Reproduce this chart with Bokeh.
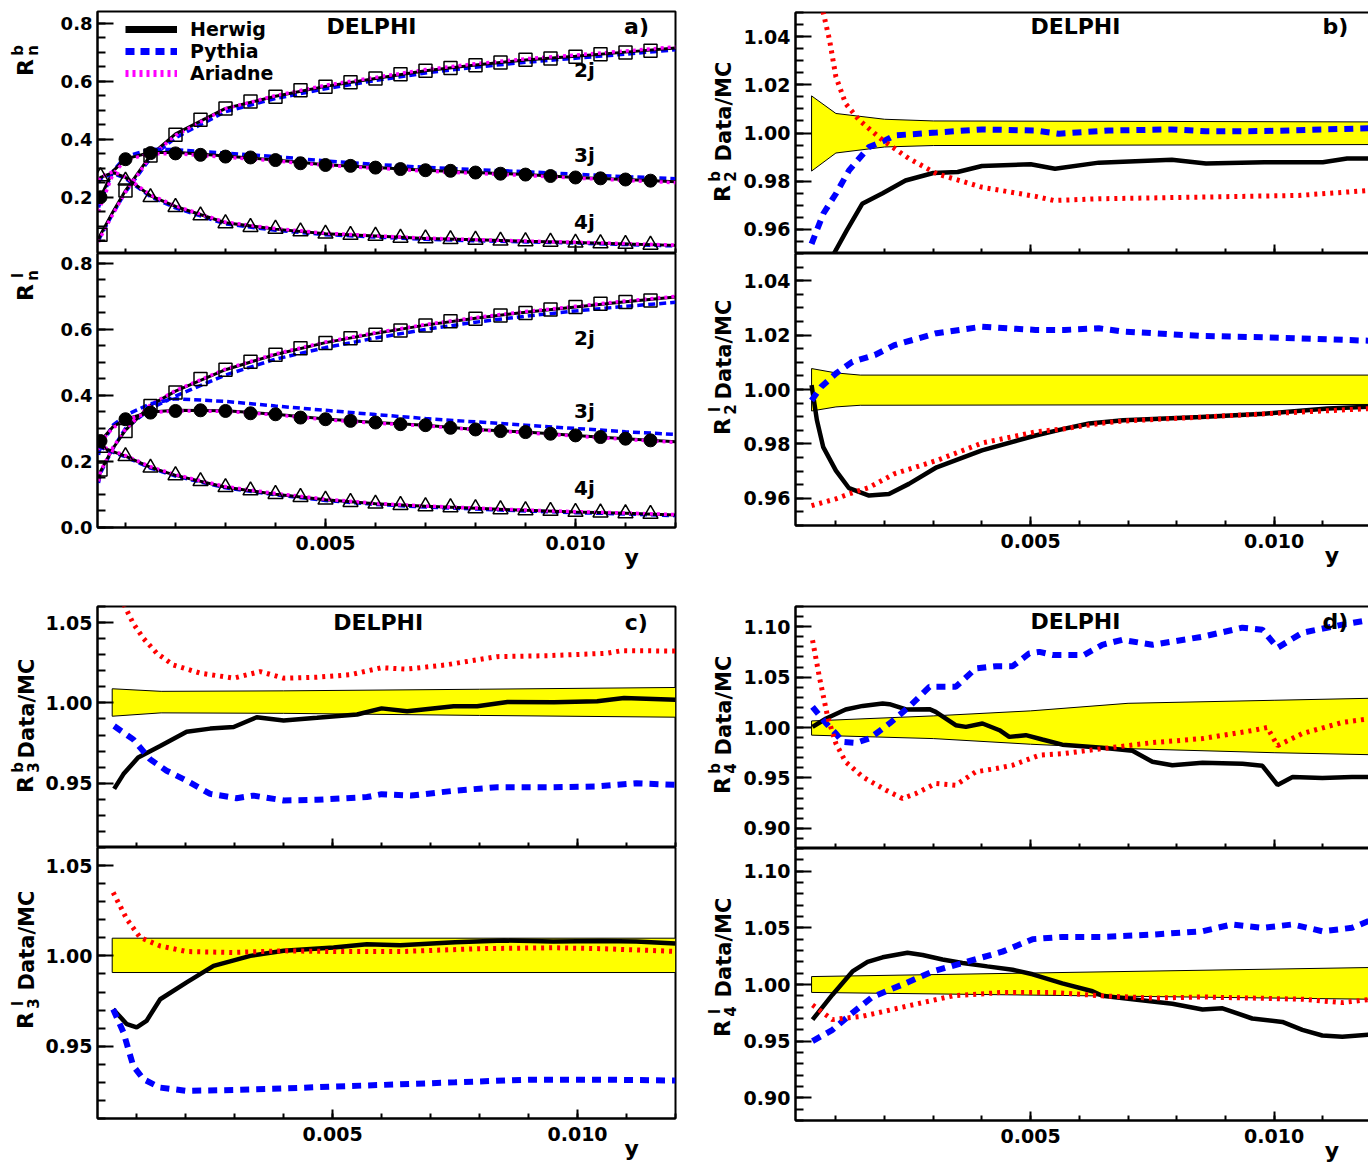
import numpy as np
from bokeh.plotting import figure
from bokeh.layouts import row, column
from bokeh.models import (FixedTicker, PrintfTickFormatter, Label, Legend, LegendItem, Range1d,
                          LinearAxis)
from bokeh.embed import file_html
from bokeh.resources import INLINE

FONT = "DejaVu Sans"

# ------------------------------------------------------------------ data: panel a
y_bins = [0.0005, 0.0010, 0.0015, 0.0020, 0.0025, 0.0030, 0.0035, 0.0040, 0.0045, 0.0050, 0.0055, 0.0060,
          0.0065, 0.0070, 0.0075, 0.0080, 0.0085, 0.0090, 0.0095, 0.0100, 0.0105, 0.0110, 0.0115]
rb_2j = [0.071, 0.223, 0.344, 0.415, 0.467, 0.506, 0.530, 0.546, 0.569, 0.581, 0.596, 0.609,
         0.624, 0.636, 0.645, 0.655, 0.664, 0.674, 0.678, 0.684, 0.693, 0.699, 0.705]
rb_3j = [0.200, 0.331, 0.352, 0.351, 0.346, 0.340, 0.337, 0.328, 0.317, 0.311, 0.308, 0.302,
         0.297, 0.293, 0.291, 0.285, 0.281, 0.278, 0.273, 0.268, 0.265, 0.261, 0.257]
rb_4j = [0.272, 0.257, 0.200, 0.166, 0.137, 0.110, 0.097, 0.091, 0.082, 0.074, 0.070, 0.067,
         0.060, 0.058, 0.055, 0.053, 0.050, 0.048, 0.046, 0.043, 0.041, 0.039, 0.036]
rl_2j = [0.176, 0.292, 0.368, 0.409, 0.450, 0.478, 0.502, 0.523, 0.543, 0.559, 0.573, 0.584,
         0.597, 0.612, 0.625, 0.632, 0.642, 0.650, 0.660, 0.668, 0.678, 0.683, 0.688]
rl_3j = [0.262, 0.328, 0.348, 0.353, 0.355, 0.353, 0.346, 0.343, 0.333, 0.328, 0.323, 0.318,
         0.313, 0.310, 0.302, 0.297, 0.292, 0.289, 0.284, 0.279, 0.274, 0.269, 0.264]
rl_4j = [0.241, 0.216, 0.181, 0.158, 0.140, 0.122, 0.112, 0.101, 0.092, 0.084, 0.077, 0.072,
         0.068, 0.064, 0.061, 0.058, 0.055, 0.052, 0.050, 0.047, 0.045, 0.043, 0.041]

mc_x = [0.00046, 0.0005, 0.00075, 0.001, 0.0015, 0.002, 0.003, 0.004, 0.005, 0.006, 0.007, 0.008,
        0.009, 0.010, 0.011, 0.012]
hw_b2 = [0.055, 0.071, 0.150, 0.223, 0.344, 0.418, 0.506, 0.548, 0.582, 0.609, 0.636, 0.656, 0.673, 0.686, 0.700, 0.714]
py_b2 = [0.050, 0.066, 0.145, 0.218, 0.335, 0.405, 0.495, 0.540, 0.574, 0.602, 0.628, 0.648, 0.665, 0.679, 0.693, 0.708]
ar_b2 = [0.045, 0.062, 0.142, 0.218, 0.340, 0.413, 0.505, 0.550, 0.586, 0.613, 0.640, 0.660, 0.677, 0.690, 0.704, 0.718]
hw_b3 = [0.185, 0.200, 0.290, 0.332, 0.354, 0.355, 0.342, 0.328, 0.312, 0.302, 0.293, 0.285, 0.278, 0.268, 0.261, 0.253]
py_b3 = [0.165, 0.185, 0.290, 0.340, 0.365, 0.364, 0.352, 0.340, 0.325, 0.313, 0.303, 0.295, 0.288, 0.279, 0.271, 0.264]
ar_b3 = [0.150, 0.170, 0.280, 0.328, 0.350, 0.350, 0.338, 0.325, 0.310, 0.300, 0.290, 0.282, 0.275, 0.266, 0.258, 0.250]
hw_b4 = [0.255, 0.268, 0.285, 0.268, 0.205, 0.168, 0.112, 0.090, 0.074, 0.066, 0.058, 0.053, 0.048, 0.044, 0.039, 0.034]
py_b4 = [0.250, 0.264, 0.282, 0.265, 0.202, 0.163, 0.108, 0.086, 0.071, 0.063, 0.055, 0.050, 0.046, 0.042, 0.037, 0.032]
ar_b4 = [0.258, 0.270, 0.288, 0.270, 0.208, 0.170, 0.114, 0.092, 0.076, 0.067, 0.059, 0.054, 0.049, 0.045, 0.040, 0.035]
hw_l2 = [0.140, 0.170, 0.240, 0.295, 0.370, 0.413, 0.478, 0.524, 0.560, 0.588, 0.613, 0.634, 0.652, 0.668, 0.684, 0.698]
py_l2 = [0.135, 0.165, 0.240, 0.300, 0.360, 0.398, 0.462, 0.510, 0.545, 0.574, 0.600, 0.622, 0.640, 0.656, 0.670, 0.682]
ar_l2 = [0.140, 0.170, 0.243, 0.298, 0.372, 0.415, 0.480, 0.526, 0.562, 0.590, 0.615, 0.636, 0.654, 0.670, 0.686, 0.700]
hw_l3 = [0.240, 0.262, 0.305, 0.328, 0.350, 0.355, 0.354, 0.343, 0.329, 0.318, 0.310, 0.297, 0.289, 0.279, 0.269, 0.260]
py_l3 = [0.220, 0.245, 0.310, 0.340, 0.375, 0.390, 0.382, 0.368, 0.355, 0.342, 0.330, 0.320, 0.310, 0.300, 0.290, 0.282]
ar_l3 = [0.235, 0.258, 0.302, 0.326, 0.348, 0.353, 0.352, 0.341, 0.327, 0.316, 0.308, 0.296, 0.287, 0.277, 0.267, 0.258]
hw_l4 = [0.250, 0.245, 0.230, 0.216, 0.182, 0.158, 0.122, 0.101, 0.084, 0.072, 0.064, 0.058, 0.052, 0.047, 0.043, 0.038]
py_l4 = [0.248, 0.243, 0.228, 0.214, 0.180, 0.156, 0.120, 0.099, 0.082, 0.070, 0.062, 0.056, 0.050, 0.045, 0.041, 0.036]
ar_l4 = [0.252, 0.247, 0.232, 0.218, 0.184, 0.160, 0.124, 0.103, 0.086, 0.073, 0.065, 0.059, 0.053, 0.048, 0.044, 0.039]

# ------------------------------------------------------------------ data: panel b (R2)
b2b_band_x = [0.0005, 0.001, 0.002, 0.003, 0.012]
b2b_band_hi = [1.0154, 1.0081, 1.0057, 1.0050, 1.0046]
b2b_band_lo = [0.9842, 0.9917, 0.9942, 0.9948, 0.9952]
b2b_hw_x = [0.0007, 0.00096, 0.00122, 0.00154, 0.00196, 0.00243, 0.0030, 0.0035, 0.0040, 0.0050, 0.0055,
            0.0064, 0.0079, 0.0086, 0.0098, 0.0110, 0.0115, 0.0120]
b2b_hw = [0.935, 0.950, 0.9595, 0.9706, 0.975, 0.9803, 0.9834, 0.9838, 0.9863, 0.9870, 0.9852,
          0.9877, 0.9889, 0.9873, 0.9879, 0.9879, 0.9894, 0.9894]
b2b_py_x = [0.0005, 0.00074, 0.001, 0.00127, 0.00168, 0.00202, 0.0022, 0.00307, 0.004, 0.0051, 0.00558,
            0.0066, 0.0079, 0.0086, 0.0098, 0.0111, 0.012]
b2b_py = [0.954, 0.9665, 0.9748, 0.9845, 0.9942, 0.997, 0.999, 1.0002, 1.0015, 1.001, 0.9997,
          1.001, 1.0015, 1.0007, 1.0008, 1.0015, 1.002]
b2b_ar_x = [0.0005, 0.00074, 0.00087, 0.001, 0.0012, 0.00148, 0.00196, 0.0025, 0.00307, 0.004, 0.0051,
            0.00548, 0.0064, 0.0085, 0.0105, 0.012]
b2b_ar = [1.09, 1.05, 1.0385, 1.0233, 1.0122, 1.0053, 0.997, 0.9894, 0.9831, 0.9775, 0.9737,
          0.972, 0.9727, 0.9734, 0.9741, 0.9762]

b2l_band_x = [0.0005, 0.001, 0.0015, 0.012]
b2l_band_hi = [1.0077, 1.0061, 1.0053, 1.0053]
b2l_band_lo = [0.9921, 0.9936, 0.9942, 0.9945]
b2l_hw_x = [0.0005, 0.00061, 0.00074, 0.001, 0.00127, 0.00168, 0.00209, 0.0025, 0.00307, 0.004, 0.0051,
            0.0057, 0.0062, 0.0069, 0.0085, 0.0098, 0.0111, 0.012]
b2l_hw = [1.0016, 0.9887, 0.9788, 0.9702, 0.9637, 0.961, 0.9616, 0.9653, 0.9714, 0.9776, 0.9831,
          0.9856, 0.9875, 0.9887, 0.9899, 0.9911, 0.993, 0.9937]
b2l_py_x = [0.0005, 0.0007, 0.001, 0.00134, 0.0018, 0.0022, 0.00307, 0.004, 0.0051, 0.0057, 0.0064,
            0.0069, 0.0085, 0.0098, 0.012]
b2l_py = [0.996, 1.001, 1.0059, 1.0102, 1.0127, 1.0163, 1.0207, 1.0231, 1.0219, 1.0219, 1.0225,
          1.0213, 1.0197, 1.0192, 1.0179]
b2l_ar_x = [0.0005, 0.001, 0.00127, 0.00168, 0.0022, 0.00307, 0.004, 0.0051, 0.0057, 0.0064, 0.0069,
            0.0092, 0.012]
b2l_ar = [0.9573, 0.9598, 0.9616, 0.964, 0.969, 0.9739, 0.9803, 0.9844, 0.9856, 0.9875, 0.9884,
          0.9905, 0.993]

# ------------------------------------------------------------------ data: panel c (R3)
c3b_band_x = [0.0005, 0.0015, 0.004, 0.008, 0.012]
c3b_band_hi = [1.0088, 1.0072, 1.0075, 1.0085, 1.0096]
c3b_band_lo = [0.9917, 0.9938, 0.9935, 0.9922, 0.9911]
c3b_hw_x = [0.00054, 0.00073, 0.00103, 0.00148, 0.00202, 0.0025, 0.00298, 0.00345, 0.004, 0.00468,
            0.0055, 0.006, 0.00652, 0.00747, 0.00795, 0.00857, 0.00952, 0.0104, 0.01095, 0.012]
c3b_hw = [0.9465, 0.9557, 0.966, 0.9732, 0.9821, 0.984, 0.985, 0.9911, 0.989, 0.9907,
          0.9928, 0.9966, 0.9948, 0.9979, 0.9979, 1.0006, 1.0004, 1.001, 1.003, 1.002]
c3b_py_x = [0.00054, 0.00093, 0.00127, 0.00161, 0.00202, 0.0025, 0.00304, 0.00338, 0.004, 0.00468,
            0.0057, 0.006, 0.0066, 0.0075, 0.00836, 0.0094, 0.0104, 0.0112, 0.012]
c3b_py = [0.9856, 0.9773, 0.965, 0.9578, 0.9516, 0.9434, 0.9407, 0.9423, 0.9393, 0.9397,
          0.9414, 0.9432, 0.9423, 0.9454, 0.9475, 0.9475, 0.948, 0.950, 0.949]
c3b_ar_x = [0.0005, 0.00076, 0.00093, 0.00114, 0.00141, 0.00175, 0.0023, 0.00298, 0.00352, 0.004,
            0.00468, 0.00536, 0.006, 0.0065, 0.0073, 0.00836, 0.0094, 0.0106, 0.0109, 0.012]
c3b_ar = [1.08, 1.06, 1.0494, 1.0401, 1.0309, 1.0236, 1.0185, 1.0154, 1.0195, 1.0154,
          1.016, 1.0175, 1.0219, 1.021, 1.0236, 1.0288, 1.0294, 1.0309, 1.0325, 1.0323]

c3l_band_x = [0.0005, 0.012]
c3l_band_hi = [1.0098, 1.0098]
c3l_band_lo = [0.9908, 0.9908]
c3l_hw_x = [0.00052, 0.0008, 0.001, 0.0012, 0.00148, 0.00202, 0.00257, 0.00332, 0.004, 0.00502,
            0.0057, 0.00638, 0.0075, 0.0085, 0.0095, 0.0105, 0.0112, 0.012]
c3l_hw = [0.9705, 0.9622, 0.9604, 0.964, 0.976, 0.9853, 0.9945, 1.0, 1.0028, 1.0046,
          1.0065, 1.0059, 1.0075, 1.0085, 1.008, 1.0083, 1.008, 1.0068]
c3l_py_x = [0.00052, 0.00073, 0.00093, 0.00114, 0.00148, 0.00202, 0.00298, 0.004, 0.00502, 0.00604,
            0.0075, 0.009, 0.0105, 0.012]
c3l_py = [0.9705, 0.9576, 0.9391, 0.9317, 0.9271, 0.9253, 0.9258, 0.9266, 0.9277, 0.9286,
          0.930, 0.9315, 0.9315, 0.9310]
c3l_ar_x = [0.00052, 0.0008, 0.00107, 0.00148, 0.00202, 0.00298, 0.004, 0.00502, 0.00638, 0.008,
            0.0095, 0.0105, 0.012]
c3l_ar = [1.0351, 1.0203, 1.0102, 1.0055, 1.0024, 1.0019, 1.0028, 1.0024, 1.0024, 1.004,
          1.0045, 1.004, 1.0025]

# ------------------------------------------------------------------ data: panel d (R4)
d4b_band_x = [0.0005, 0.003, 0.005, 0.007, 0.010, 0.012]
d4b_band_hi = [1.0065, 1.0115, 1.0165, 1.024, 1.027, 1.029]
d4b_band_lo = [0.9924, 0.989, 0.9834, 0.979, 0.975, 0.973]
d4b_hw_x = [0.00052, 0.0008, 0.0012, 0.00155, 0.00196, 0.0021, 0.00244, 0.00292, 0.00305, 0.00346,
            0.00367, 0.00401, 0.00436, 0.00456, 0.0049, 0.00524, 0.00565, 0.00647, 0.00709, 0.0075,
            0.00791, 0.00853, 0.00935, 0.00976, 0.01007, 0.01038, 0.01099, 0.0116, 0.012]
d4b_hw = [1.0006, 1.0089, 1.0179, 1.0214, 1.0238, 1.0231, 1.0179, 1.0182, 1.0155, 1.0023,
          1.0006, 1.004, 0.9973, 0.9907, 0.9924, 0.9881, 0.983, 0.980, 0.977, 0.966,
          0.9625, 0.965, 0.964, 0.962, 0.943, 0.951, 0.950, 0.951, 0.951]
d4b_py_x = [0.00052, 0.0008, 0.001, 0.00114, 0.00141, 0.00169, 0.0021, 0.0025, 0.00292, 0.00346,
            0.00387, 0.00429, 0.00463, 0.00497, 0.00518, 0.00545, 0.0061, 0.00647, 0.00688, 0.0075,
            0.00853, 0.00935, 0.00976, 0.01007, 0.01058, 0.0114, 0.012]
d4b_py = [1.0204, 1.004, 0.994, 0.9857, 0.9847, 0.9891, 1.004, 1.0204, 1.0403, 1.0403,
          1.0585, 1.0608, 1.0608, 1.0734, 1.075, 1.072, 1.072, 1.082, 1.087, 1.082,
          1.090, 1.099, 1.097, 1.079, 1.094, 1.102, 1.107]
d4b_ar_x = [0.00052, 0.00066, 0.00083, 0.001, 0.0012, 0.00155, 0.00203, 0.00237, 0.00264, 0.00305,
            0.00346, 0.00387, 0.00429, 0.00463, 0.00518, 0.00565, 0.00647, 0.0075, 0.00853, 0.00955,
            0.00986, 0.01007, 0.01058, 0.0114, 0.012]
d4b_ar = [1.0866, 1.0502, 1.0105, 0.9841, 0.9659, 0.951, 0.9378, 0.9296, 0.9345, 0.9444,
          0.9428, 0.956, 0.9593, 0.9626, 0.9725, 0.974, 0.979, 0.985, 0.989, 0.997,
          1.0, 0.982, 0.994, 1.005, 1.009]

d4l_band_x = [0.0005, 0.012]
d4l_band_hi = [1.007, 1.015]
d4l_band_lo = [0.993, 0.987]
d4l_hw_x = [0.00052, 0.00093, 0.00134, 0.00165, 0.00196, 0.00247, 0.00278, 0.00319, 0.0036, 0.00411,
            0.00463, 0.00504, 0.00565, 0.00627, 0.00647, 0.00709, 0.00791, 0.00853, 0.00894, 0.00955,
            0.01017, 0.01058, 0.01099, 0.0114, 0.012]
d4l_hw = [0.969, 0.991, 1.0115, 1.020, 1.024, 1.028, 1.026, 1.022, 1.019, 1.016,
          1.013, 1.009, 1.001, 0.994, 0.990, 0.987, 0.983, 0.978, 0.979, 0.970,
          0.967, 0.960, 0.955, 0.954, 0.956]
d4l_py_x = [0.00052, 0.00093, 0.00134, 0.00175, 0.00237, 0.00299, 0.0036, 0.00442, 0.00504, 0.00565,
            0.00647, 0.0075, 0.00853, 0.00914, 0.00976, 0.01038, 0.01099, 0.0116, 0.012]
d4l_py = [0.950, 0.960, 0.975, 0.989, 1.0, 1.0115, 1.019, 1.029, 1.040, 1.042,
          1.042, 1.044, 1.047, 1.053, 1.050, 1.053, 1.047, 1.050, 1.057]
d4l_ar_x = [0.00052, 0.00093, 0.00155, 0.00237, 0.0034, 0.00442, 0.00545, 0.00647, 0.0075, 0.00853,
            0.00955, 0.01058, 0.0114, 0.012]
d4l_ar = [0.982, 0.969, 0.972, 0.980, 0.990, 0.993, 0.993, 0.990, 0.988, 0.989,
          0.988, 0.987, 0.984, 0.987]

# ------------------------------------------------------------------ helpers
X_MAJOR = [0.005, 0.010]
X_MINOR = [0.001 * i for i in range(1, 13)]
NBSP = "\u00a0"


def style_axis(ax):
    ax.axis_line_width = 2
    ax.axis_line_color = "black"
    ax.major_tick_line_width = 2
    ax.minor_tick_line_width = 2
    ax.major_tick_out = 0
    ax.minor_tick_out = 0
    ax.major_label_text_font = FONT
    ax.major_label_text_font_style = "bold"
    ax.major_label_text_color = "black"


def make_fig(xr, yr, fw, fh, bl, br, bt, bb, ymaj, ymin, yfmt, ysize, xlabels, pad=0):
    p = figure(frame_width=fw, frame_height=fh, x_range=Range1d(*xr), y_range=Range1d(*yr),
               output_backend="svg", toolbar_location=None,
               x_axis_location=None if not xlabels else "below",
               min_border_left=bl, min_border_right=br, min_border_top=bt, min_border_bottom=bb)
    p.grid.visible = False
    p.outline_line_color = "black"
    p.outline_line_width = 2
    p.outline_line_alpha = 1.0
    p.background_fill_color = "white"
    p.border_fill_color = "white"
    ya = p.yaxis[0]
    ya.ticker = FixedTicker(ticks=ymaj, minor_ticks=ymin)
    ya.formatter = PrintfTickFormatter(format=yfmt)
    style_axis(ya)
    ya.major_tick_in = 16
    ya.minor_tick_in = 8
    ya.major_label_standoff = 5
    ya.major_label_text_font_size = ysize
    if xlabels:
        xa = p.xaxis[0]
        xa.ticker = FixedTicker(ticks=X_MAJOR, minor_ticks=X_MINOR)
        xa.formatter = PrintfTickFormatter(format="%.3f")
        style_axis(xa)
        xa.major_tick_in = 9
        xa.minor_tick_in = 5
        xa.major_label_standoff = 8
        xa.major_label_text_font_size = "19px"
        # axis title "y" sits near the right end of the axis (ROOT style)
        xa.axis_label = NBSP * pad + "y"
        xa.axis_label_text_font = FONT
        xa.axis_label_text_font_style = "bold"
        xa.axis_label_text_font_size = "22px"
        xa.axis_label_text_color = "black"
        xa.axis_label_standoff = -8
        xa.axis_label_align = "center"
    else:
        # tick marks only (no numbers) on the shared boundary
        ax1 = LinearAxis(ticker=FixedTicker(ticks=[], minor_ticks=X_MINOR))
        ax2 = LinearAxis(ticker=FixedTicker(ticks=[], minor_ticks=X_MAJOR))
        for ax, ln in ((ax1, 5), (ax2, 9)):
            style_axis(ax)
            ax.minor_tick_in = ln
            ax.major_label_standoff = 0
            p.add_layout(ax, "below")
    return p


def label_fig(w, h):
    p = figure(width=w, height=h, x_axis_type=None, y_axis_type=None, output_backend="svg",
               toolbar_location=None, min_border=0, x_range=Range1d(0, 1), y_range=Range1d(0, 1))
    p.outline_line_color = None
    p.grid.visible = False
    p.background_fill_color = "white"
    p.border_fill_color = "white"
    return p


def txt(p, text, x, y, size, angle=0.0, units="screen", align="center"):
    p.add_layout(Label(x=x, y=y, x_units=units, y_units=units, text=text, angle=angle,
                       text_font=FONT, text_font_style="bold", text_font_size=size,
                       text_align=align, text_baseline="middle", text_color="black"))


def rlabel(p, sup, sub, rx, ry, dm=None):
    a = np.pi / 2
    txt(p, "R", rx, ry, "22px", a)
    txt(p, sup, rx - 8, ry + 17, "15px", a)
    txt(p, sub, rx + 7, ry + 17, "15px", a)
    if dm is not None:
        txt(p, "Data/MC", rx + 1, dm, "21px", a)


def ratio_curves(p, bx, bhi, blo, hx, hy, px, py, ax_, ay):
    p.patch(x=list(bx) + list(bx)[::-1], y=list(bhi) + list(blo)[::-1],
            fill_color="#ffff00", line_color="black", line_width=1)
    p.line(hx, hy, line_color="black", line_width=4.5)
    p.line(px, py, line_color="#0000ff", line_width=6, line_dash="9 7")
    p.line(ax_, ay, line_color="#ff0000", line_width=5, line_dash="3 5")


def rate_curves(p, mcx, hw, py, ar):
    p.line(mcx, py, line_color="#0000ff", line_width=3.5, line_dash="7 4")
    p.line(mcx, hw, line_color="black", line_width=3)
    p.line(mcx, ar, line_color="#ff00ff", line_width=3.5, line_dash="3 4")


def markers(p, v2, v3, v4):
    p.scatter(y_bins, v2, marker="square", size=13, fill_color=None, line_color="black", line_width=1.5)
    p.scatter(y_bins, v3, marker="circle", size=13, fill_color="black", line_color="black")
    p.scatter(y_bins, v4, marker="triangle", size=15, fill_color=None, line_color="black", line_width=1.5)


A_X = (0.00044, 0.012)
BD_X = (0.00017, 0.01198)
C_X = (0.0002, 0.012)

a_ymaj = [0.0, 0.2, 0.4, 0.6, 0.8]
a_ymin = [0.05 * i for i in range(0, 17)]
b_ymaj = [0.96, 0.98, 1.00, 1.02, 1.04]
b_ymin = [0.95 + 0.005 * i for i in range(0, 21)]
c_ymaj = [0.95, 1.00, 1.05]
c_ymin = [0.91 + 0.01 * i for i in range(0, 16)]
d_ymaj = [0.90, 0.95, 1.00, 1.05, 1.10]
d_ymin = [0.88 + 0.01 * i for i in range(0, 25)]

LBL = 55   # left border of left-column panels (after the 42px title strip)
RBL = 53   # left border of right-column panels (after the 40px title strip)

# ------------------------------------------------------------------ panel a
a_top = make_fig(A_X, (0.006, 0.84), 578, 242, LBL, 25, 11, 0, a_ymaj, a_ymin, "%.1f", "18px", False)
rate_curves(a_top, mc_x, hw_b2, py_b2, ar_b2)
rate_curves(a_top, mc_x, hw_b3, py_b3, ar_b3)
rate_curves(a_top, mc_x, hw_b4, py_b4, ar_b4)
markers(a_top, rb_2j, rb_3j, rb_4j)
txt(a_top, "DELPHI", 0.00592, 0.789, "22px", units="data")
txt(a_top, "a)", 0.01122, 0.789, "22px", units="data")
txt(a_top, "2j", 0.01018, 0.637, "20px", units="data")
txt(a_top, "3j", 0.01018, 0.344, "20px", units="data")
txt(a_top, "4j", 0.01018, 0.113, "20px", units="data")
# legend proxies: single-point lines (draw nothing in the frame, only the legend sample)
lg_h = a_top.line(x=mc_x[:1], y=hw_b2[:1], line_color="black", line_width=7)
lg_p = a_top.line(x=mc_x[:1], y=py_b2[:1], line_color="#0000ff", line_width=7, line_dash="9 6")
lg_a = a_top.line(x=mc_x[:1], y=ar_b2[:1], line_color="#ff00ff", line_width=7, line_dash="3 4")
legend = Legend(items=[LegendItem(label="Herwig", renderers=[lg_h]),
                       LegendItem(label="Pythia", renderers=[lg_p]),
                       LegendItem(label="Ariadne", renderers=[lg_a])],
                location=(28, 169), glyph_width=52, glyph_height=20, label_height=20,
                label_standoff=13, spacing=0, padding=0, margin=0,
                border_line_color=None, background_fill_alpha=0,
                label_text_font=FONT, label_text_font_style="bold", label_text_font_size="19px",
                label_text_color="black")
a_top.add_layout(legend)

a_bot = make_fig(A_X, (0.0, 0.83), 578, 274, LBL, 25, 0, 50, a_ymaj, a_ymin, "%.1f", "18px", True, pad=64)
rate_curves(a_bot, mc_x, hw_l2, py_l2, ar_l2)
rate_curves(a_bot, mc_x, hw_l3, py_l3, ar_l3)
rate_curves(a_bot, mc_x, hw_l4, py_l4, ar_l4)
markers(a_bot, rl_2j, rl_3j, rl_4j)
txt(a_bot, "2j", 0.01018, 0.575, "20px", units="data")
txt(a_bot, "3j", 0.01018, 0.353, "20px", units="data")
txt(a_bot, "4j", 0.01018, 0.119, "20px", units="data")

# ------------------------------------------------------------------ panel b
b_top = make_fig(BD_X, (0.95, 1.05), 575, 241, RBL, 0, 12, 0, b_ymaj, b_ymin, "%.2f", "19px", False)
ratio_curves(b_top, b2b_band_x, b2b_band_hi, b2b_band_lo, b2b_hw_x, b2b_hw, b2b_py_x, b2b_py, b2b_ar_x, b2b_ar)
txt(b_top, "DELPHI", 0.00592, 1.044, "22px", units="data")
txt(b_top, "b)", 0.01126, 1.044, "22px", units="data")

b_bot = make_fig(BD_X, (0.95, 1.05), 575, 272, RBL, 0, 0, 52, b_ymaj, b_ymin, "%.2f", "19px", True, pad=65)
ratio_curves(b_bot, b2l_band_x, b2l_band_hi, b2l_band_lo, b2l_hw_x, b2l_hw, b2l_py_x, b2l_py, b2l_ar_x, b2l_ar)

# ------------------------------------------------------------------ panel c
c_top = make_fig(C_X, (0.91, 1.06), 578, 241, LBL, 25, 29, 0, c_ymaj, c_ymin, "%.2f", "19px", False)
ratio_curves(c_top, c3b_band_x, c3b_band_hi, c3b_band_lo, c3b_hw_x, c3b_hw, c3b_py_x, c3b_py, c3b_ar_x, c3b_ar)
txt(c_top, "DELPHI", 0.00593, 1.050, "22px", units="data")
txt(c_top, "c)", 0.0112, 1.050, "22px", units="data")

c_bot = make_fig(C_X, (0.91, 1.06), 578, 271, LBL, 25, 0, 44, c_ymaj, c_ymin, "%.2f", "19px", True, pad=64)
ratio_curves(c_bot, c3l_band_x, c3l_band_hi, c3l_band_lo, c3l_hw_x, c3l_hw, c3l_py_x, c3l_py, c3l_ar_x, c3l_ar)

# ------------------------------------------------------------------ panel d
d_top = make_fig(BD_X, (0.88, 1.12), 575, 242, RBL, 0, 29, 0, d_ymaj, d_ymin, "%.2f", "19px", False)
ratio_curves(d_top, d4b_band_x, d4b_band_hi, d4b_band_lo, d4b_hw_x, d4b_hw, d4b_py_x, d4b_py, d4b_ar_x, d4b_ar)
txt(d_top, "DELPHI", 0.00592, 1.1047, "22px", units="data")
txt(d_top, "d)", 0.01126, 1.1047, "22px", units="data")

d_bot = make_fig(BD_X, (0.88, 1.12), 575, 272, RBL, 0, 0, 42, d_ymaj, d_ymin, "%.2f", "19px", True, pad=65)
ratio_curves(d_bot, d4l_band_x, d4l_band_hi, d4l_band_lo, d4l_hw_x, d4l_hw, d4l_py_x, d4l_py, d4l_ar_x, d4l_ar)

# ------------------------------------------------------------------ y-axis title strips
la_top = label_fig(42, 253)
rlabel(la_top, "b", "n", 25, 186)
la_bot = label_fig(42, 324)
rlabel(la_bot, "l", "n", 25, 285)
lc_top = label_fig(42, 270)
rlabel(lc_top, "b", "3", 25, 63, dm=139)
lc_bot = label_fig(42, 315)
rlabel(lc_bot, "l", "3", 25, 142, dm=222)

lb_top = label_fig(40, 253)
rlabel(lb_top, "b", "2", 22, 60, dm=142)
lb_bot = label_fig(40, 324)
rlabel(lb_bot, "l", "2", 22, 151, dm=228)
ld_top = label_fig(40, 271)
rlabel(ld_top, "b", "4", 22, 63, dm=143)
ld_bot = label_fig(40, 314)
rlabel(ld_bot, "l", "4", 22, 134, dm=215)

layout = row(column(la_top, la_bot, lc_top, lc_bot, spacing=0),
             column(a_top, a_bot, c_top, c_bot, spacing=0),
             column(lb_top, lb_bot, ld_top, ld_bot, spacing=0),
             column(b_top, b_bot, d_top, d_bot, spacing=0), spacing=0)

open("out.html", "w").write(file_html(layout, INLINE))
